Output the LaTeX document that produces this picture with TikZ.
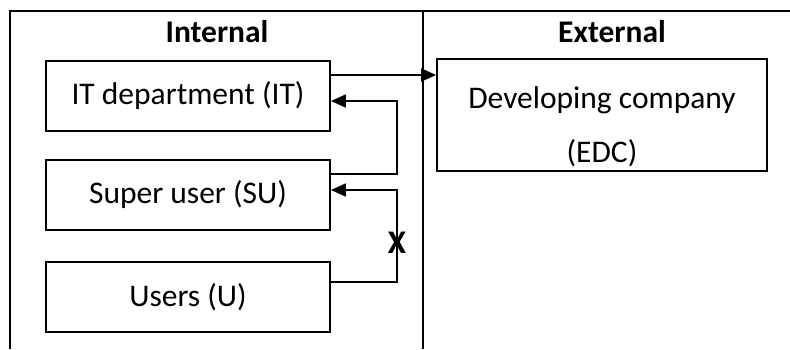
\documentclass[tikz,border=0pt]{standalone}
\usepackage{fontspec}
\setmainfont{Carlito}
\usetikzlibrary{arrows.meta}
\tikzset{
  box/.style={draw=black, line width=1.8pt, minimum width=284pt, minimum height=70pt, inner sep=0pt, font=\fontsize{31.5}{38}\selectfont},
  frameline/.style={line width=2.6pt},
  conn/.style={line width=1.8pt},
  arr/.style={conn, -{Triangle[length=15pt,width=13pt]}},
  head/.style={font=\fontsize{31.5}{38}\selectfont\bfseries, inner sep=0pt},
  txt/.style={font=\fontsize{31.5}{38}\selectfont, inner sep=0pt}
}
\begin{document}
\begin{tikzpicture}[x=1pt,y=-1pt]
\useasboundingbox (0,0) rectangle (790,349);
% frame
\coordinate (tl) at (10,11);
\coordinate (tr) at (790,11);
\coordinate (bl) at (10,349);
\coordinate (dt) at (423,11);
\coordinate (db) at (423,349);
\draw[frameline] (bl) -- (tl) -- (tr);
\draw[frameline] (dt) -- (db);
% headings
\node[head] (internal) at (217,32) {Internal};
\node[head] (external) at (612,32) {External};
% boxes
\node[box] (it) at (188,96) {IT department (IT)};
\node[box] (su) at (188,195) {Super user (SU)};
\node[box] (u) at (188,297) {Users (U)};
\node[box, minimum width=330pt, minimum height=112pt] (edc) at (602,115) {};
\node[txt, align=center] (edctxt) at (602,127) {Developing company\\[16pt](EDC)};
% connectors
\coordinate (c1) at (397,174);
\coordinate (c2) at (397,101);
\coordinate (c3) at (397,282);
\coordinate (c4) at (397,190);
\draw[arr] (it.east |- 0,75) -- (edc.west |- 0,75);
\draw[arr] (su.east |- c1) -- (c1) -- (c2) -- (it.east |- c2);
\draw[arr] (u.east |- c3) -- (c3) -- (c4) -- (su.east |- c4);
\node[head, font=\fontsize{33}{38}\selectfont\bfseries] (x) at (397,243) {X};
\end{tikzpicture}
\end{document}
